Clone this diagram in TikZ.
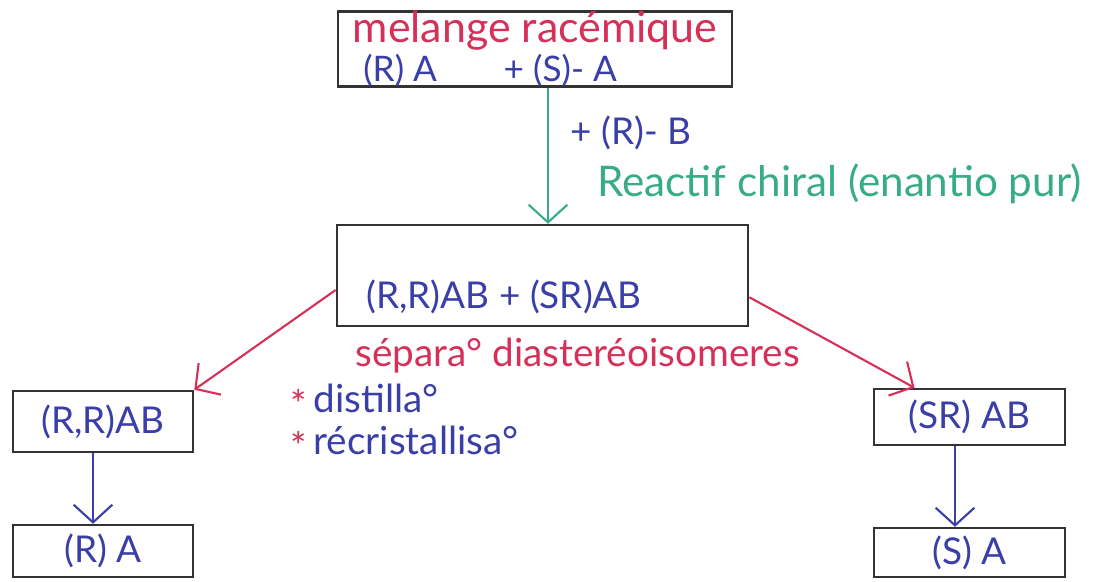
\documentclass[tikz,border=0pt]{standalone}
\usepackage{fontspec}
\setmainfont{Lato}
\usepackage{xcolor}
\usepackage{tikz}
\usetikzlibrary{arrows.meta, calc}

\definecolor{inkred}{RGB}{214,48,88}
\definecolor{inkblue}{RGB}{58,62,168}
\definecolor{inkgreen}{RGB}{56,172,134}

\begin{document}
\begin{tikzpicture}[x=0.01cm, y=-0.01cm, >={Straight Barb[length=5pt, width=11pt]},
    font=\fontsize{10.5}{12}\selectfont,
    box/.style={draw=black!80, line width=0.7pt, inner sep=0pt},
    link/.style={->, line width=0.6pt}]
    \useasboundingbox (0,0) rectangle (1098,581);

    \node[box, minimum width=3.94cm, minimum height=0.74cm, align=left] (top) at (535,49)
        {{\fontsize{12.2}{15}\selectfont\color{inkred}melange racémique}\\[-1pt]
         {\fontsize{10}{12}\selectfont\color{inkblue}\hspace{0.3em}(R) A\hspace{1.9em}+ (S)- A}};
    \node[box, minimum width=4.11cm, minimum height=1.01cm] (mid) at (542.5,275.5) {};
    \node[inkblue, anchor=west] (mixlbl) at (354,297) {(R,R)AB + (SR)AB};

    \node[box, minimum width=1.80cm, minimum height=0.61cm, text=inkblue] (rrab) at (103,421.5) {(R,R)AB};
    \node[box, minimum width=1.80cm, minimum height=0.52cm, text=inkblue] (ra) at (103,551) {(R) A\hspace{1.5em}};
    \node[box, minimum width=1.91cm, minimum height=0.56cm, text=inkblue] (srab) at (969.5,417) {(SR) AB\hspace{1em}};
    \node[box, minimum width=1.91cm, minimum height=0.49cm, text=inkblue] (sa) at (969.5,552.5) {(S) A\hspace{1.5em}};

    \coordinate (gcol) at (548,0);
    \coordinate (lcol) at (93,0);
    \coordinate (rcol) at (955,0);

    \draw[link, inkgreen] (top.south -| gcol) -- (mid.north -| gcol);
    \draw[link, inkred] (mid.184) -- (rrab.north east);
    \draw[link, inkred] (mid.-6) -- (srab.152);
    \draw[link, inkblue] (rrab.south -| lcol) -- (ra.north -| lcol);
    \draw[link, inkblue] (srab.south -| rcol) -- (sa.north -| rcol);

    \node[inkblue, anchor=west] (reagent) at (558,133) {+ (R)- B};
    \node[inkgreen, anchor=west, font=\fontsize{12}{14}\selectfont] (chiral) at (585,184) {Reactif chiral (enantio pur)};
    \node[inkred, anchor=west, font=\fontsize{11}{13}\selectfont] (sep) at (343,356) {sépara° diasteréoisomeres};
    \node[anchor=west, inner sep=0pt, font=\fontsize{11}{13}\selectfont] (distil) at (290,401)
        {\textcolor{inkred}{\raisebox{-0.3ex}{*}}\,\textcolor{inkblue}{distilla°}};
    \node[anchor=west, inner sep=0pt, font=\fontsize{11}{13}\selectfont] (recrist) at (290,443)
        {\textcolor{inkred}{\raisebox{-0.3ex}{*}}\,\textcolor{inkblue}{récristallisa°}};
\end{tikzpicture}
\end{document}
